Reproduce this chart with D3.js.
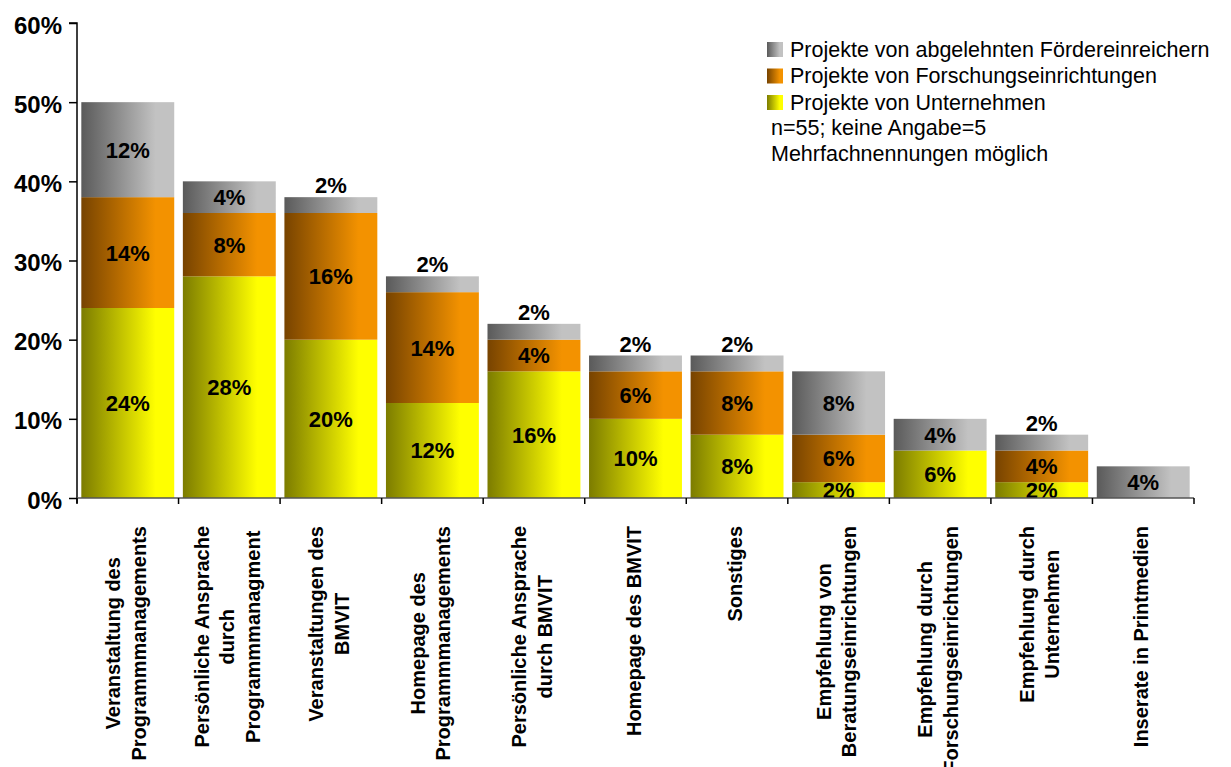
<!DOCTYPE html>
<html>
<head>
<meta charset="utf-8">
<script src="https://cdn.jsdelivr.net/npm/d3@7"></script>
<style>
  html, body { margin: 0; padding: 0; background: #fff; }
  svg { display: block; font-family: Arial, "Liberation Sans", Helvetica, sans-serif; }
</style>
</head>
<body>
<svg id="chart" width="1231" height="767"></svg>
<script>
// Kategorien (Zeilenumbrüche mit "\n")
const categories = [
  "Veranstaltung des\nProgrammmanagements",
  "Persönliche Ansprache\ndurch\nProgrammmanagment",
  "Veranstaltungen des\nBMVIT",
  "Homepage des\nProgrammmanagements",
  "Persönliche Ansprache\ndurch BMVIT",
  "Homepage des BMVIT",
  "Sonstiges",
  "Empfehlung von\nBeratungseinrichtungen",
  "Empfehlung durch\nForschungseinrichtungen",
  "Empfehlung durch\nUnternehmen",
  "Inserate in Printmedien"
];

// Anteile in Prozent je Herkunft der Projekte
const unternehmen   = [24, 28, 20, 12, 16, 10, 8, 2, 6, 2, 0];
const forschung     = [14,  8, 16, 14,  4,  6, 8, 6, 0, 4, 0];
const abgelehnt     = [12,  4,  2,  2,  2,  2, 2, 8, 4, 2, 4];

const seriesNames = [
  "Projekte von Unternehmen",
  "Projekte von Forschungseinrichtungen",
  "Projekte von abgelehnten Fördereinreichern"
];
const legendOrder = [
  "Projekte von abgelehnten Fördereinreichern",
  "Projekte von Forschungseinrichtungen",
  "Projekte von Unternehmen"
];
const notes = ["n=55; keine Angabe=5", "Mehrfachnennungen möglich"];

const yTicks = [0, 10, 20, 30, 40, 50, 60];

// Verlaufsfarben (dunkel -> hell) je Reihe
const gradients = {
  "Projekte von Unternehmen": ["#7c7c00", "#ffff00"],
  "Projekte von Forschungseinrichtungen": ["#774300", "#f39200"],
  "Projekte von abgelehnten Fördereinreichern": ["#5a5a5a", "#c2c2c2"]
};

const svg = d3.select("#chart");
const plotLeft = 77, plotRight = 1194, plotTop = 23, plotBottom = 498;

const x = d3.scaleBand().domain(categories).range([plotLeft, plotRight])
  .paddingInner(0.085).paddingOuter(0.0425);
const y = d3.scaleLinear().domain([0, 60]).range([plotBottom, plotTop]);

// Verläufe
const defs = svg.append("defs");
seriesNames.forEach((name, i) => {
  const g = defs.append("linearGradient")
    .attr("id", "grad" + i)
    .attr("x1", 0).attr("x2", 1).attr("y1", 0).attr("y2", 0);
  g.append("stop").attr("offset", 0).attr("stop-color", gradients[name][0]);
  g.append("stop").attr("offset", 0.8).attr("stop-color", gradients[name][1]);
  g.append("stop").attr("offset", 1).attr("stop-color", gradients[name][1]);
});
const gradId = name => "url(#grad" + seriesNames.indexOf(name) + ")";

// Gestapelte Daten
const table = categories.map((c, i) => ({
  cat: c,
  [seriesNames[0]]: unternehmen[i],
  [seriesNames[1]]: forschung[i],
  [seriesNames[2]]: abgelehnt[i]
}));
const stacked = d3.stack().keys(seriesNames)(table);

// Balken
const layers = svg.append("g").selectAll("g")
  .data(stacked).join("g")
  .attr("fill", d => gradId(d.key));

layers.selectAll("rect")
  .data(d => d.filter(s => s[1] - s[0] > 0))
  .join("rect")
  .attr("x", d => x(d.data.cat))
  .attr("width", x.bandwidth())
  .attr("y", d => y(d[1]))
  .attr("height", d => y(d[0]) - y(d[1]));

// Wertbeschriftungen
const labels = [];
stacked.forEach((layer, li) => {
  layer.forEach((s, ci) => {
    const v = s[1] - s[0];
    if (v <= 0) return;
    const isTop = stacked.slice(li + 1).every(l => l[ci][1] - l[ci][0] <= 0);
    labels.push({ cat: s.data.cat, v, lo: s[0], hi: s[1], outside: isTop && v <= 2 && s[0] > 0 });
  });
});

svg.append("g").selectAll("text")
  .data(labels).join("text")
  .attr("x", d => x(d.cat) + x.bandwidth() / 2)
  .attr("y", d => d.outside ? y(d.hi) - 4 : y((d.lo + d.hi) / 2))
  .attr("dy", d => d.outside ? 0 : "0.36em")
  .attr("text-anchor", "middle")
  .attr("font-size", 22)
  .attr("font-weight", "bold")
  .attr("fill", "#000")
  .text(d => d.v + "%");

// Y-Achse
const yAxis = svg.append("g")
  .attr("transform", `translate(${plotLeft},0)`)
  .call(d3.axisLeft(y).tickValues(yTicks).tickFormat(d => d + "%").tickSize(8).tickPadding(7));
yAxis.select(".domain").attr("stroke", "#000").attr("stroke-width", 1.5).attr("d", `M-8,${plotTop}H0V${plotBottom + 5}`);
yAxis.selectAll(".tick line").attr("stroke", "#000").attr("stroke-width", 1.5);
yAxis.selectAll(".tick text")
  .attr("font-size", 24).attr("font-weight", "bold").attr("fill", "#000")
  .attr("font-family", "Arial, 'Liberation Sans', sans-serif")
  .attr("dy", "0.42em");

// X-Achse mit Teilstrichen an den Kategoriegrenzen
const boundaries = categories.map(c => x(c) - x.step() * x.paddingInner() / 2).concat([plotRight]);
const xAxis = svg.append("g");
xAxis.append("line")
  .attr("x1", plotLeft).attr("x2", plotRight)
  .attr("y1", plotBottom).attr("y2", plotBottom)
  .attr("stroke", "#555").attr("stroke-width", 1.5);
xAxis.selectAll("line.tick")
  .data(boundaries).join("line")
  .attr("class", "tick")
  .attr("x1", d => d).attr("x2", d => d)
  .attr("y1", plotBottom).attr("y2", plotBottom + 6)
  .attr("stroke", "#000").attr("stroke-width", 1.5);

// Kategorienbeschriftungen (um 90° gedreht, zeilenweise zentriert)
const lineGap = 25.5;
const labelTop = 526;
const catG = svg.append("g");
categories.forEach(c => {
  const lines = c.split("\n");
  const cx = x(c) + x.bandwidth() / 2 - 2;
  const g = catG.append("g");
  const texts = lines.map((ln, i) => g.append("text")
    .attr("font-size", 20)
    .attr("font-weight", "bold")
    .attr("fill", "#000")
    .attr("text-anchor", "middle")
    .text(ln));
  const w = d3.max(texts, t => t.node().getComputedTextLength());
  const cy = labelTop + w / 2;
  texts.forEach((t, i) => {
    const lx = cx + (i - (lines.length - 1) / 2) * lineGap;
    t.attr("transform", `translate(${lx + 7},${cy}) rotate(-90)`);
  });
});

// Legende
const legend = svg.append("g");
legendOrder.forEach((name, i) => {
  const yy = 49 + i * 26.5;
  legend.append("rect")
    .attr("x", 767).attr("y", yy - 7).attr("width", 16).attr("height", 15)
    .attr("fill", gradId(name));
  legend.append("text")
    .attr("x", 790).attr("y", yy).attr("dy", "0.35em")
    .attr("font-size", 21.5).attr("fill", "#000")
    .text(name);
});
notes.forEach((n, i) => {
  legend.append("text")
    .attr("x", 771).attr("y", 127 + i * 26.5).attr("dy", "0.35em")
    .attr("font-size", 21.5).attr("fill", "#000")
    .text(n);
});
</script>
</body>
</html>
